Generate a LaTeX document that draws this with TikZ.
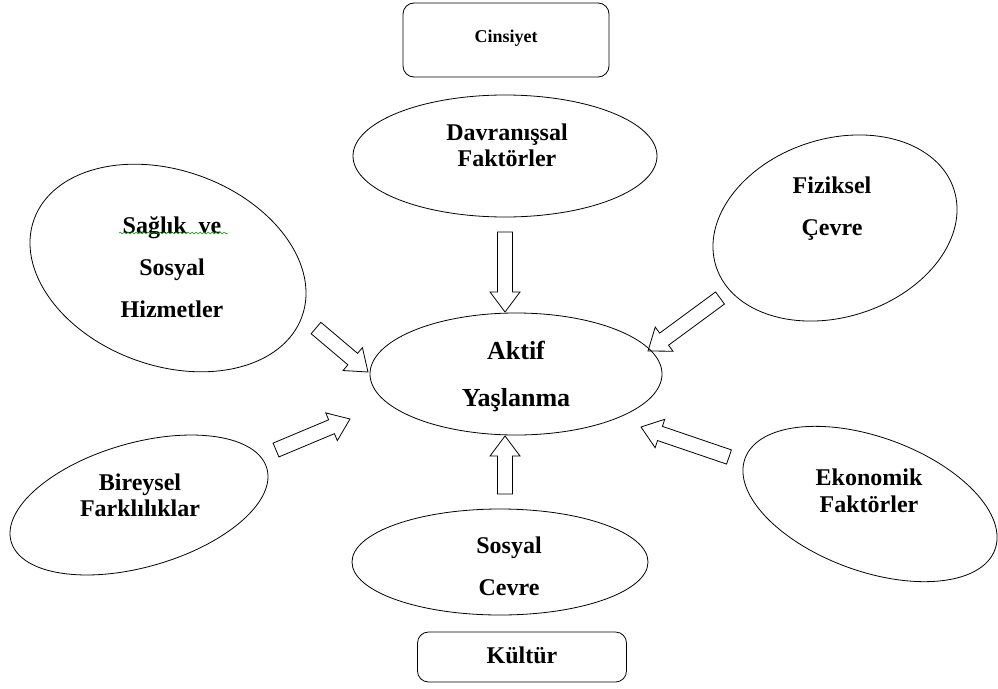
\documentclass[tikz,border=0pt]{standalone}
\usepackage{fontspec}
\setmainfont{Liberation Serif}
\usetikzlibrary{shapes.geometric,calc,decorations.pathmorphing}
\begin{document}
\begin{tikzpicture}[x=1pt,y=-1pt,
  ell/.style={draw, ellipse, line width=0.8pt, inner sep=0pt, minimum width=#1},
  box/.style={draw, rectangle, rounded corners=11pt, line width=0.8pt, inner sep=0pt},
  lbl/.style={align=center, inner sep=0pt, font={\fontsize{24}{#1}\selectfont\bfseries}},
  blockarrow/.style={line width=0.8pt, line join=miter, to path={
    let \p1=(\tikztostart), \p2=(\tikztotarget),
        \n1={atan2(\y2-\y1,\x2-\x1)}, \n2={veclen(\x2-\x1,\y2-\y1)-20pt} in
    ($(\p1)+(\n1+90:7.5pt)$) -- ($(\p1)+(\n1:\n2)+(\n1+90:7.5pt)$)
    -- ($(\p1)+(\n1:\n2)+(\n1+90:15pt)$) -- (\p2)
    -- ($(\p1)+(\n1:\n2)+(\n1-90:15pt)$) -- ($(\p1)+(\n1:\n2)+(\n1-90:7.5pt)$)
    -- ($(\p1)+(\n1-90:7.5pt)$) -- cycle}}]
\useasboundingbox (0,0) rectangle (998,688);

% boxes
\node[box, minimum width=206pt, minimum height=74pt] (cins) at (506,40) {};
\node[box, minimum width=209pt, minimum height=50pt] (kult) at (522,657) {};
% ellipses
\node[ell=304pt, minimum height=122pt] (dav) at (505,156) {};
\node[ell=292pt, minimum height=122pt] (akt) at (516,374) {};
\node[ell=296pt, minimum height=106pt] (sos) at (500,562) {};
\node[ell=285pt, minimum height=195pt, rotate=-20] (sag) at (168,268) {};
\node[ell=250pt, minimum height=178pt, rotate=18] (fiz) at (835,228) {};
\node[ell=266pt, minimum height=134pt, rotate=-20] (eko) at (870,504) {};
\node[ell=266pt, minimum height=124pt, rotate=16] (bir) at (139,505) {};

% texts
\node[align=center, inner sep=0pt, font={\fontsize{18}{20}\selectfont\bfseries}] (tcins) at (506,38) {Cinsiyet};
\node[lbl=26pt] (tdav) at (507,145) {Davranışsal\\Faktörler};
\node[align=center, inner sep=0pt, font={\fontsize{26}{47}\selectfont\bfseries}] (takt) at (516,377) {Aktif\\Yaşlanma};
\node[lbl=42pt] (tsos) at (509,566) {Sosyal\\Cevre};
\node[lbl=26pt] (tkult) at (522,655) {Kültür};
\node[lbl=42pt] (tsag) at (172,267) {Sağlık\ \ ve\\Sosyal\\Hizmetler};
\node[lbl=42pt] (tfiz) at (832,209) {Fiziksel\\Çevre};
\node[lbl=27pt] (teko) at (869,491) {Ekonomik\\Faktörler};
\node[lbl=26pt] (tbir) at (140,495) {Bireysel\\Farklılıklar};

% spell-check squiggle
\draw[green!60!black, line width=0.5pt, decorate, decoration={snake, amplitude=0.9pt, segment length=4pt}] (119,233) -- (228,233);

% arrow end points
\coordinate (a1s) at (316,328); \coordinate (a1e) at (368,372);
\coordinate (a2s) at (276,450); \coordinate (a2e) at (350,419);
\coordinate (a3s) at (505,232); \coordinate (a3e) at (505,312);
\coordinate (a4s) at (505,494); \coordinate (a4e) at (505,436);
\coordinate (a5s) at (720,298); \coordinate (a5e) at (648,351);
\coordinate (a6s) at (729,457); \coordinate (a6e) at (641,427);

\draw[blockarrow] (a1s) to (a1e);
\draw[blockarrow] (a2s) to (a2e);
\draw[blockarrow] (a3s) to (a3e);
\draw[blockarrow] (a4s) to (a4e);
\draw[blockarrow] (a5s) to (a5e);
\draw[blockarrow] (a6s) to (a6e);
\end{tikzpicture}
\end{document}
